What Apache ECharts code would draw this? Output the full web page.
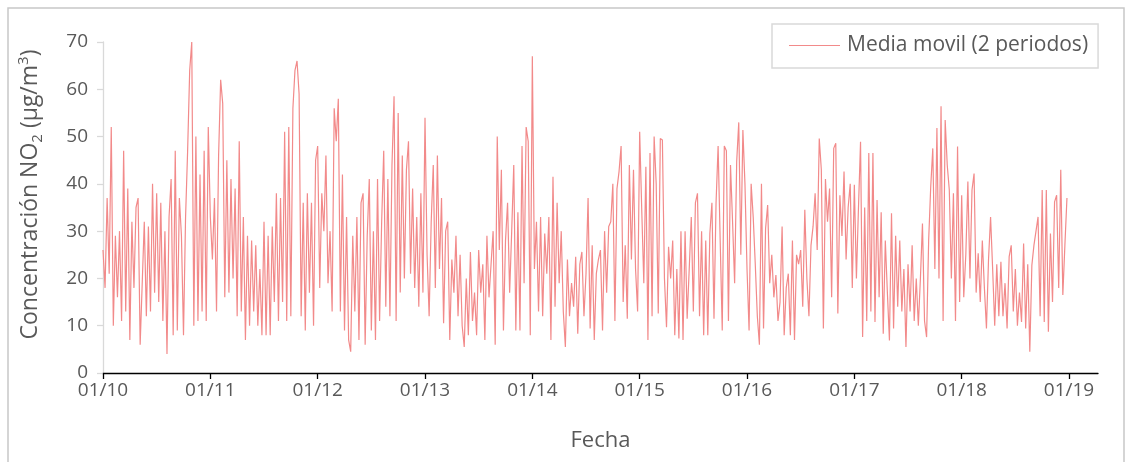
<!DOCTYPE html>
<html>
<head>
<meta charset="utf-8">
<script src="https://cdn.jsdelivr.net/npm/echarts@6/dist/echarts.min.js"></script>
<style>
  html, body { margin: 0; padding: 0; background: #ffffff; }
  #chart { width: 1131px; height: 462px; }
</style>
</head>
<body>
<div id="chart"></div>
<script>
// NO2 concentration, 2-period moving average, one value per week (52 per year)
const no2_2010 = [26, 18, 37, 21, 52, 10, 29, 16, 30, 11, 47, 13, 39, 7, 32, 18, 35, 37, 6, 19, 32, 12, 31, 13, 40, 17, 38, 15, 36, 11, 30, 4, 33, 41, 8, 47, 9, 37, 29, 8, 33, 47, 64, 70, 10, 50, 11, 42, 13, 47, 11, 52];
const no2_2011 = [33, 24, 37, 13, 46, 62, 57, 16, 45, 17, 41, 20, 39, 12, 49, 13, 33, 7, 29, 10, 28, 13, 27, 10, 22, 8, 32, 8, 29, 8, 31, 15, 38, 11, 37, 15, 51, 11, 52, 12, 56, 64, 66, 59, 12, 36, 9, 38, 17, 36, 10, 45];
const no2_2012 = [48, 18, 38, 30, 46, 19, 30, 13, 56, 49, 58, 13, 42, 9, 33, 7, 4.5, 29, 13, 33, 7, 36, 38, 6, 29, 41, 9, 30, 7, 41, 11, 32, 47, 14, 41, 12, 44, 58.5, 11, 55, 17, 46, 20, 43, 49, 21, 39, 18, 33, 14, 38, 17];
const no2_2013 = [54, 25, 12, 32, 44, 18, 46, 22, 37, 10.5, 30, 32, 7, 24, 17, 29, 12, 25, 10, 5.5, 20, 8, 25.6, 11, 17, 8, 26, 17, 23, 7, 29, 16, 23, 30, 6, 50, 26, 43, 9, 28, 36, 17, 30, 44, 9, 34, 9, 48, 19, 52, 49, 8];
const no2_2014 = [67, 22, 32, 13, 33, 12, 29.5, 21, 33, 7, 41.5, 14, 36, 19, 30, 13, 5.5, 24, 12, 19, 14, 24.6, 8.3, 23, 25.6, 12, 21, 37, 9.4, 27, 7, 21, 24, 26, 9, 30, 17, 31, 32, 40, 11, 39, 42.6, 48, 15, 27, 11.5, 44, 24, 43, 22, 13];
const no2_2015 = [51, 34.5, 19, 43.6, 7, 46.5, 12, 50, 40, 12.6, 49.6, 49.3, 20, 9.7, 26.7, 20, 28, 8, 22, 7.3, 30, 7, 30, 11.5, 22, 33, 13, 36, 38, 12, 30, 8, 28, 8, 29.5, 36, 11.5, 36, 48, 28, 9, 48, 47, 11, 44, 32, 19, 44.7, 53, 25, 51.4, 40];
const no2_2016 = [22, 9, 40, 33, 23, 12, 6, 40, 9.4, 30.6, 35.5, 19, 25, 16, 20.7, 11, 15, 31, 8, 18, 21, 8, 28, 7, 25, 23, 26, 14, 34.5, 20, 12, 27, 31, 38, 26, 49.6, 43, 9.4, 41, 32, 39, 16, 47.5, 48.6, 12.6, 37.6, 29, 42.6, 24, 35, 40, 18];
const no2_2017 = [39.8, 20, 35, 48.9, 7.6, 35, 11, 46.5, 13, 46.5, 10.8, 36.6, 16, 34, 8.3, 28, 17, 6.9, 33.8, 9.4, 29, 14, 28, 13, 22, 5.5, 23, 13, 27, 11, 20, 10, 20, 31.6, 11, 7.6, 28, 39.4, 47.5, 22, 51.8, 20, 56.4, 11, 53.5, 44, 38.7, 20, 38, 11, 47.9, 15];
const no2_2018 = [37.6, 16, 25, 40.5, 20, 38.7, 42.2, 17, 25.3, 15, 28, 18, 9.4, 24, 33, 22, 10, 23, 12, 23.5, 12, 19, 9.4, 24.6, 27, 13, 22, 10, 17, 10.8, 27.4, 9.4, 23, 4.5, 22.8, 27, 30, 33, 12, 38.7, 10.8, 38.7, 8.7, 29.5, 15, 36.2, 37.6, 18, 43, 16.5, 27, 37];

const years = [2010, 2011, 2012, 2013, 2014, 2015, 2016, 2017, 2018];
const weeklyByYear = [no2_2010, no2_2011, no2_2012, no2_2013, no2_2014, no2_2015, no2_2016, no2_2017, no2_2018];

const tickYears = [2010, 2011, 2012, 2013, 2014, 2015, 2016, 2017, 2018, 2019];
const tickLabels = ['01/10', '01/11', '01/12', '01/13', '01/14', '01/15', '01/16', '01/17', '01/18', '01/19'];

const seriesName = 'Media movil (2 periodos)';

// x position = year + fraction of the year
const points = [];
years.forEach((year, k) => {
  const weeks = weeklyByYear[k];
  weeks.forEach((v, i) => points.push([year + i / weeks.length, v]));
});

const FONT = '"Open Sans", "Noto Sans", sans-serif';
const TEXT_GREY = '#595959';
const LINE_COLOR = '#F28A8A';

const chart = echarts.init(document.getElementById('chart'), null, { renderer: 'canvas' });

chart.setOption({
  animation: false,
  backgroundColor: '#ffffff',
  textStyle: { fontFamily: FONT },
  graphic: [{
    type: 'rect',
    silent: true,
    z: -10,
    shape: { x: 8, y: 8, width: 1116, height: 470 },
    style: { fill: 'none', stroke: '#c8c8c8', lineWidth: 1.5 }
  }],
  grid: { left: 103, right: 33, top: 42, bottom: 89, containLabel: false },
  legend: {
    left: 772,
    top: 24,
    padding: [11, 10, 12, 17],
    itemWidth: 51,
    itemHeight: 1.2,
    itemGap: 0,
    icon: 'rect',
    borderColor: '#d9d9d9',
    borderWidth: 1.5,
    textStyle: { fontSize: 21, color: TEXT_GREY, fontFamily: FONT, padding: [0, 0, 0, 2] },
    data: [seriesName]
  },
  xAxis: {
    type: 'value',
    min: 2010,
    max: 2019.27,
    name: 'Fecha',
    nameLocation: 'middle',
    nameGap: 57,
    nameTextStyle: { fontSize: 22, color: TEXT_GREY, fontFamily: FONT },
    axisLine: { onZero: false, lineStyle: { color: '#000000', width: 1.3 } },
    axisTick: { show: true, customValues: tickYears, length: 6, lineStyle: { color: '#000000', width: 1.3 } },
    axisLabel: {
      customValues: tickYears,
      formatter: v => tickLabels[tickYears.indexOf(Math.round(v))] || '',
      fontSize: 19,
      color: TEXT_GREY,
      margin: 8
    },
    splitLine: { show: false }
  },
  yAxis: {
    type: 'value',
    min: 0,
    max: 70,
    interval: 10,
    name: '{t|Concentración NO}{sub|2}{t| (µg/m}{sup|3}{t|)}',
    nameLocation: 'middle',
    nameGap: 58,
    nameTextStyle: {
      padding: [0, 0, 0, 26],
      rich: {
        t: { fontSize: 23, color: TEXT_GREY, fontFamily: FONT, lineHeight: 29 },
        sub: { fontSize: 15, color: TEXT_GREY, fontFamily: FONT, verticalAlign: 'bottom', lineHeight: 15 },
        sup: { fontSize: 15, color: TEXT_GREY, fontFamily: FONT, verticalAlign: 'top', lineHeight: 15 }
      }
    },
    axisLine: { show: true, onZero: false, lineStyle: { color: '#d9d9d9', width: 1.3 } },
    axisTick: { show: true, length: 6, lineStyle: { color: '#d9d9d9', width: 1.3 } },
    axisLabel: { fontSize: 19, color: TEXT_GREY, margin: 15 },
    splitLine: { show: false }
  },
  series: [{
    type: 'line',
    name: seriesName,
    data: points,
    symbol: 'none',
    showSymbol: false,
    lineStyle: { color: LINE_COLOR, width: 1.2 },
    itemStyle: { color: LINE_COLOR }
  }]
});
</script>
</body>
</html>
